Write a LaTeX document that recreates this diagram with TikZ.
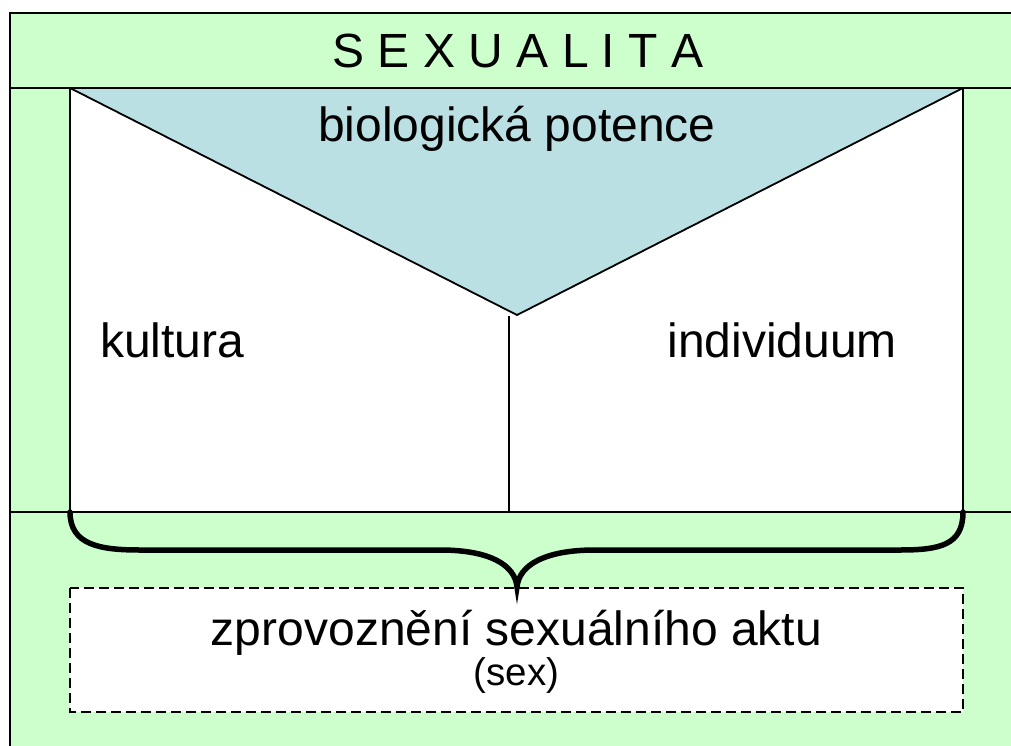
\documentclass[tikz,border=0pt]{standalone}
\usepackage{fontspec}
\setmainfont{Liberation Sans}
\definecolor{bggreen}{HTML}{CCFFCC}
\definecolor{bioblue}{HTML}{BBE0E3}
\tikzset{
  thinline/.style={draw=black, line width=1.8pt},
  frameline/.style={draw=black, line width=2.4pt},
  bracepath/.style={draw=black, line width=5.5pt, line cap=round},
  dashbox/.style={draw=black, fill=white, line width=2.6pt, dash pattern=on 10pt off 5pt},
  bigtext/.style={font=\fontsize{48}{58}\selectfont, inner sep=0pt, anchor=base},
  smalltext/.style={font=\fontsize{38.5}{46}\selectfont, inner sep=0pt, anchor=base}
}
\begin{document}
\begin{tikzpicture}[x=1pt,y=-1pt]
\useasboundingbox (0,0) rectangle (1011,746);
\begin{scope}
\clip (0,0) rectangle (1011,746);
% outer green frame
\fill[bggreen] (10,13) rectangle (1030,770);
\draw[frameline] (10,770) -- (10,13) -- (1030,13);
% white inner area
\fill[white] (70,88) rectangle (963,512);
% blue triangle
\fill[bioblue] (70,88) -- (517,315) -- (963,88) -- cycle;
\draw[thinline] (70,88) -- (517,315) -- (963,88);
% frame lines
\draw[frameline] (10,88) -- (1030,88);
\draw[thinline] (10,512) -- (1030,512);
\draw[frameline] (70,88) -- (70,512);
\draw[frameline] (963,88) -- (963,512);
\draw[thinline] (509,316) -- (509,512);
% dashed box
\draw[dashbox] (70,588) rectangle (963,712);
\end{scope}
% brace
\coordinate (bl) at (70,512);
\coordinate (br) at (963,512);
\coordinate (tip) at (517,587);
\draw[bracepath] (bl) .. controls (70,545) and (100,550) .. (140,550)
  -- (440,550) .. controls (490,550) and (515,565) .. (tip)
  .. controls (519,565) and (545,550) .. (595,550)
  -- (900,550) .. controls (940,550) and (963,545) .. (br);
% texts
\node[bigtext] (title) at (518,68) {S E X U A L I T A};
\node[bigtext] (bio) at (517,142) {biologická potence};
\node[bigtext, anchor=base west] (kult) at (100,357) {kultura};
\node[bigtext, anchor=base east] (indiv) at (897,357) {individuum};
\node[bigtext] (act) at (516.5,645) {zprovoznění sexuálního aktu};
\node[smalltext] (sex) at (516.5,685) {(sex)};
\end{tikzpicture}
\end{document}
